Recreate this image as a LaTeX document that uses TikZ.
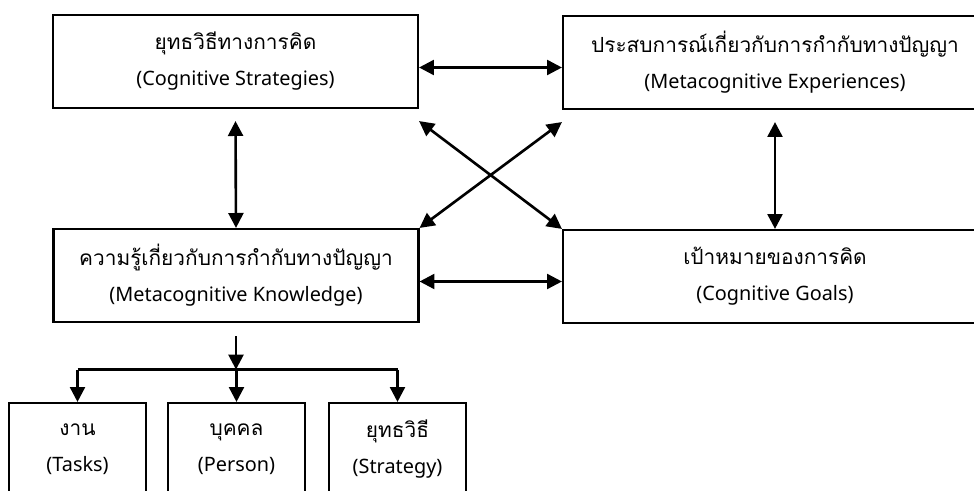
\documentclass[tikz,border=0pt]{standalone}
\usepackage{fontspec}
\setmainfont{Noto Sans}
\newfontfamily\thaifont[Script=Thai,Scale=1.05]{Loma}
\usepackage{tikz}
\usetikzlibrary{arrows.meta, positioning, calc}

\begin{document}
\begin{tikzpicture}[
    box/.style={rectangle, draw=black, line width=1.2pt, minimum height=1.86cm, align=center, inner sep=0pt, font=\fontsize{11.3}{20.5}\selectfont},
    bigbox/.style={box, minimum width=7.3cm},
    widebox/.style={box, minimum width=8.48cm},
    smallbox/.style={box, minimum width=2.74cm},
    link/.style={{Triangle[length=8.5pt,width=8.5pt]}-{Triangle[length=8.5pt,width=8.5pt]}, line width=1.5pt},
    arrow/.style={-{Triangle[length=8.5pt,width=8.5pt]}, line width=1.5pt}
]
\useasboundingbox (0,0) rectangle (19.48,-9.82);
\clip (0,0) rectangle (19.48,-9.82);

% upper row
\node[bigbox] (cs) at (4.71,-1.23) {{\thaifont ยุทธวิธีทางการคิด}\\(Cognitive Strategies)};
\node[widebox] (me) at (15.5,-1.25) {{\thaifont ประสบการณ์เกี่ยวกับการกำกับทางปัญญา}\\(Metacognitive Experiences)};

% lower row
\node[bigbox] (mk) at (4.72,-5.51) {{\thaifont ความรู้เกี่ยวกับการกำกับทางปัญญา}\\(Metacognitive Knowledge)};
\node[widebox] (cg) at (15.5,-5.53) {{\thaifont เป้าหมายของการคิด}\\(Cognitive Goals)};

% knowledge parts
\node[smallbox] (tasks) at (1.55,-8.99) {{\thaifont งาน}\\(Tasks)};
\node[smallbox] (person) at (4.73,-8.99) {{\thaifont บุคคล}\\(Person)};
\node[smallbox] (strat) at (7.95,-8.99) {{\thaifont ยุทธวิธี}\\(Strategy)};

% links between the four parts
\draw[link] ([yshift=-0.12cm]cs.east) -- ([yshift=-0.12cm]cs.east -| me.west);
\draw[link] ([yshift=-0.12cm]mk.east) -- ([yshift=-0.12cm]mk.east -| cg.west);
\draw[link] ([yshift=-0.24cm]cs.south) -- (mk.north);
\draw[link] ([yshift=-0.24cm]me.south) -- (cg.north);
\draw[link] ([yshift=-0.24cm]cs.south east) -- (cg.north west);
\draw[link] (mk.north east) -- ([yshift=-0.24cm]me.south west);

% split into three
\coordinate (split) at ($(mk.south)+(0,-0.93)$);
\draw[arrow] ([yshift=-0.26cm]mk.south) -- (split);
\draw[line width=1.5pt] (split -| tasks.north) -- (split -| strat.north);
\foreach \k in {tasks, person, strat}
    \draw[arrow] (split -| \k.north) -- (\k.north);
\end{tikzpicture}
\end{document}
